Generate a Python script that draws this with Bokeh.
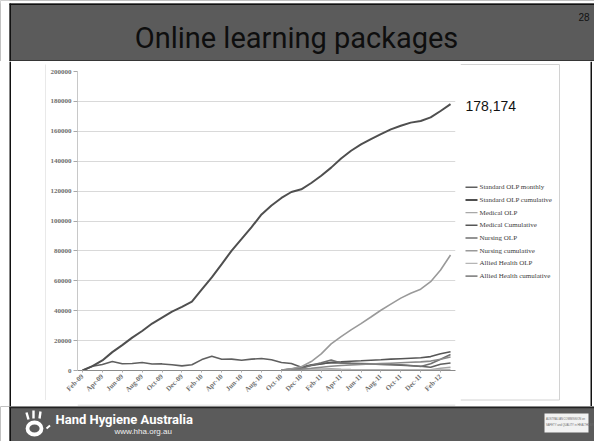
import math
from bokeh.plotting import figure
from bokeh.layouts import row, column
from bokeh.models import Range1d, FixedTicker, NumeralTickFormatter
from bokeh.core.properties import value
from bokeh.embed import file_html
from bokeh.resources import INLINE

# ---------------- data ----------------
months = ["Feb-09", "Mar-09", "Apr-09", "May-09", "Jun-09", "Jul-09", "Aug-09", "Sep-09",
          "Oct-09", "Nov-09", "Dec-09", "Jan-10", "Feb-10", "Mar-10", "Apr-10", "May-10",
          "Jun-10", "Jul-10", "Aug-10", "Sep-10", "Oct-10", "Nov-10", "Dec-10", "Jan-11",
          "Feb-11", "Mar-11", "Apr-11", "May-11", "Jun-11", "Jul-11", "Aug-11", "Sep-11",
          "Oct-11", "Nov-11", "Dec-11", "Jan-12", "Feb-12", "Mar-12"]

std_monthly = [0, 2900, 4000, 6000, 4500, 4700, 5300, 4300, 4400, 3800, 3100, 3800,
               7300, 9500, 7500, 7600, 6900, 7600, 8000, 7200, 5300, 4700, 2200, 3800,
               4500, 5200, 5000, 4800, 4600, 4400, 4000, 3800, 3500, 3200, 2800, 2200,
               4200, 5000]
std_cumulative = [0, 2900, 6700, 12300, 17000, 22000, 26400, 31400, 35400, 39400, 42600,
                  46100, 54200, 62300, 71200, 80200, 88000, 95900, 104400, 110400, 115400,
                  119400, 121200, 125400, 130300, 135700, 141800, 147000, 151200, 154800,
                  158100, 161300, 163700, 165800, 166900, 169300, 173600, 178174]

# the profession-specific packages start in Oct-10 (index 20)
new_start = 20
medical_olp = [200, 700, 1200, 1000, 1100, 1200, 900, 700, 600, 500, 500, 400, 400, 300,
               400, 600, 1500, 2200]
medical_cum = [200, 1000, 2200, 3300, 4400, 5500, 5800, 6200, 6500, 6900, 7200, 7600, 7900,
               8200, 8500, 9300, 11200, 12500]
nursing_olp = [300, 900, 1300, 3500, 5100, 7000, 5000, 4600, 4400, 4300, 4200, 4000, 3800,
               3300, 2700, 4500, 7500, 10700]
nursing_cum = [300, 1200, 2500, 6000, 11100, 17800, 22600, 27200, 31400, 35800, 40300, 44400,
               48400, 51700, 54400, 59400, 67200, 77300]
allied_olp = [100, 300, 500, 600, 600, 500, 500, 400, 300, 300, 400, 300, 300, 300, 300, 400,
              600, 700]
allied_cum = [100, 400, 900, 1500, 2200, 2800, 3300, 3700, 4000, 4300, 4600, 4900, 5200, 5500,
              5800, 6300, 7500, 9000]

series_names = ["Standard OLP monthly", "Standard OLP cumulative", "Medical OLP",
                "Medical Cumulative", "Nursing OLP", "Nursing cumulative",
                "Allied Health OLP", "Allied Health cumulative"]
series_colors = ["#5f5f5f", "#4f4f4f", "#a8a8a8", "#565656", "#707070", "#9a9a9a",
                 "#b5b5b5", "#8a8a8a"]
series_widths = [1.6, 2.0, 1.4, 1.6, 1.6, 1.6, 1.4, 1.6]
y_ticks = list(range(0, 200001, 20000))
final_label = "178,174"
slide_title = "Online learning packages"
slide_number = "28"
footer_title = "Hand Hygiene Australia"
footer_url = "www.hha.org.au"
logo_lines = ["AUSTRALIAN COMMISSION on", "SAFETY and QUALITY in HEALTHCARE"]

SLIDE_GRAY = "#5b5b5b"
EDGE = "#121212"


def panel(w, h, bg):
    """A plain drawing surface whose data units are pixels, y pointing down."""
    f = figure(width=w, height=h, x_range=Range1d(0, w), y_range=Range1d(h, 0),
               output_backend="svg", toolbar_location=None,
               x_axis_location=None, y_axis_location=None, min_border=0,
               background_fill_color=bg, border_fill_color=bg)
    f.outline_line_color = None
    f.xgrid.visible = False
    f.ygrid.visible = False
    return f


W = 594

# ---------------- header (y 0..61) ----------------
HH = 61
header = panel(W, HH, SLIDE_GRAY)
header.quad(left=[0], right=[W], top=[0], bottom=[3], fill_color="white", line_color=None)
header.quad(left=[0], right=[9], top=[0], bottom=[HH], fill_color="white", line_color=None)
header.quad(left=[9], right=[W], top=[3], bottom=[4.5], fill_color=EDGE, line_color=None)
header.quad(left=[9], right=[10.5], top=[3], bottom=[HH], fill_color=EDGE, line_color=None)
header.quad(left=[9], right=[W], top=[HH - 1.2], bottom=[HH], fill_color="#2a2a2a",
            line_color=None)
header.text(x=[296], y=[37], text=[slide_title], text_font=value("Roboto"),
            text_font_size="29px", text_color="#0e0e0e", text_align="center",
            text_baseline="middle")
header.text(x=[589], y=[16], text=[slide_number], text_font=value("Liberation Sans"),
            text_font_size="10px", text_color="#111111", text_align="right",
            text_baseline="middle")

# ---------------- middle (y 61..406) ----------------
MH = 345
TOP_H, CH, BOT_H = 6, 332, 7
LW, CW, RW = 46, 414, 134
BOX = "#d2d2d2"

left = panel(LW, MH, "white")
left.quad(left=[9], right=[10.5], top=[0], bottom=[MH], fill_color=EDGE, line_color=None)
left.segment(x0=[45.5], y0=[3], x1=[45.5], y1=[338.5], line_color=BOX, line_width=1)
left.segment(x0=[45.5], y0=[3], x1=[LW], y1=[3], line_color=BOX, line_width=1)
left.segment(x0=[45.5], y0=[338.5], x1=[LW], y1=[338.5], line_color=BOX, line_width=1)

top = panel(CW, TOP_H, "white")
top.segment(x0=[0], y0=[3], x1=[CW], y1=[3], line_color=BOX, line_width=1)
bot = panel(CW, BOT_H, "white")
bot.segment(x0=[0], y0=[0.5], x1=[CW], y1=[0.5], line_color=BOX, line_width=1)

# chart itself
p = figure(width=CW, height=CH, output_backend="svg", toolbar_location=None,
           x_range=Range1d(-0.5, len(months) - 0.5), y_range=Range1d(0, 200000),
           min_border_left=31, min_border_right=5, min_border_top=4,
           min_border_bottom=29)
p.background_fill_color = "white"
p.border_fill_color = "white"
p.outline_line_color = None
p.xgrid.visible = False
p.ygrid.grid_line_color = "#d9d9d9"
p.ygrid.grid_line_width = 1

p.yaxis.ticker = FixedTicker(ticks=y_ticks)
p.yaxis.formatter = NumeralTickFormatter(format="0")
p.yaxis.axis_line_color = "#c8c8c8"
p.yaxis.major_tick_line_color = "#a8a8a8"
p.yaxis.major_tick_out = 4
p.yaxis.major_tick_in = 0
p.yaxis.minor_tick_line_color = None
p.yaxis.major_label_standoff = 2

xt = list(range(0, len(months), 2))
p.xaxis.ticker = FixedTicker(ticks=xt)
p.xaxis.major_label_overrides = {i: months[i] for i in xt}
p.xaxis.major_label_orientation = math.pi / 4
p.xaxis.axis_line_color = "#8a8a8a"
p.xaxis.major_tick_line_color = "#b0b0b0"
p.xaxis.major_tick_out = 2
p.xaxis.major_tick_in = 0
p.xaxis.minor_tick_line_color = None
p.xaxis.major_label_standoff = 3

for ax in (p.xaxis, p.yaxis):
    ax.major_label_text_font = "Liberation Serif"
    ax.major_label_text_font_size = "7px"
    ax.major_label_text_font_style = "bold"
    ax.major_label_text_color = "#6e6e6e"

xs_full = list(range(len(months)))
xs_new = list(range(new_start, len(months)))
data = [(xs_full, std_monthly), (xs_full, std_cumulative), (xs_new, medical_olp),
        (xs_new, medical_cum), (xs_new, nursing_olp), (xs_new, nursing_cum),
        (xs_new, allied_olp), (xs_new, allied_cum)]
for (xs, ys), col, lw in zip(data, series_colors, series_widths):
    p.line(xs, ys, line_color=col, line_width=lw)

# right side: legend + total label + chart box edges + slide edge
right = panel(RW, MH, "white")
right.segment(x0=[0, 99, 0], y0=[3, 3, 338.5], x1=[99, 99, 99], y1=[3, 338.5, 338.5],
              line_color=BOX, line_width=1)
right.quad(left=[130], right=[131.5], top=[0], bottom=[MH], fill_color=EDGE, line_color=None)
leg_y = [125.7 + 12.7 * k for k in range(len(series_names))]
right.segment(x0=[5] * len(leg_y), y0=leg_y, x1=[17] * len(leg_y), y1=leg_y,
              line_color=series_colors, line_width=series_widths)
right.text(x=[19] * len(leg_y), y=leg_y, text=series_names,
           text_font=value("Liberation Serif"), text_font_size="7px",
           text_color="#3c3c3c", text_align="left", text_baseline="middle")
right.text(x=[5], y=[44], text=[final_label], text_font=value("Liberation Sans"),
           text_font_size="14px", text_color="#111111", text_align="left",
           text_baseline="middle")

middle = row(left, column(top, p, bot), right)

# ---------------- footer (y 406..441) ----------------
FH = 35
footer = panel(W, FH, SLIDE_GRAY)
footer.quad(left=[0], right=[9], top=[0], bottom=[FH], fill_color="white", line_color=None)
footer.quad(left=[9], right=[10.5], top=[0], bottom=[FH], fill_color=EDGE, line_color=None)
footer.quad(left=[9], right=[W], top=[0], bottom=[1.8], fill_color="#222222", line_color=None)
# simple hand logo
footer.segment(x0=[26, 33, 40], y0=[6, 4, 5], x1=[28, 33, 39], y1=[13, 12, 12],
               line_color="white", line_width=2.4)
footer.ellipse(x=[34], y=[22], width=[14], height=[12], fill_color=SLIDE_GRAY,
               line_color="white", line_width=3.8)
footer.segment(x0=[46], y0=[22], x1=[49.5], y1=[19], line_color="white", line_width=2)
footer.text(x=[55], y=[13], text=[footer_title], text_font=value("Roboto"),
            text_font_size="13px", text_font_style="bold", text_color="white",
            text_align="left", text_baseline="middle")
footer.text(x=[114], y=[24.5], text=[footer_url], text_font=value("Liberation Sans"),
            text_font_size="8px", text_color="#f0f0f0", text_align="left",
            text_baseline="middle")
footer.quad(left=[544], right=[588], top=[7], bottom=[26], fill_color="#f2f2f2",
            line_color=None)
footer.text(x=[545.5, 545.5], y=[13.5, 19], text=logo_lines, text_font=value("Liberation Sans"),
            text_font_size="2.7px", text_color="#6a6a6a", text_align="left",
            text_baseline="middle")

layout = column(header, middle, footer)
open("out.html", "w").write(file_html(layout, INLINE))
